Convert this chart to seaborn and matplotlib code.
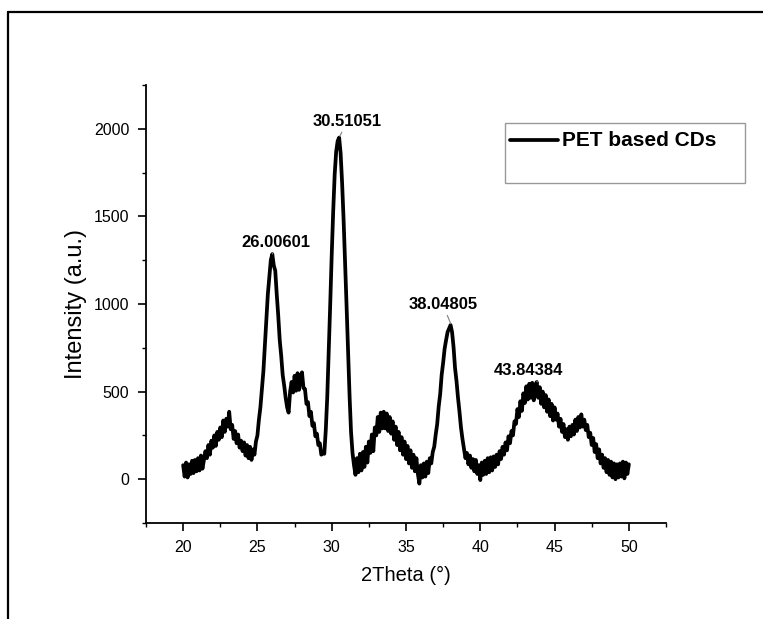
import numpy as np
import pandas as pd
import matplotlib
matplotlib.use("Agg")
import matplotlib.pyplot as plt
import seaborn as sns
from matplotlib.lines import Line2D
from matplotlib.patches import Rectangle
from matplotlib.ticker import MultipleLocator

# ---------------- data ----------------
two_theta = [
    20.0, 20.1, 20.2, 20.3, 20.4, 20.5, 20.6, 20.7, 20.8, 20.9,
    21.0, 21.1, 21.2, 21.3, 21.4, 21.5, 21.6, 21.7, 21.8, 21.9,
    22.0, 22.1, 22.2, 22.3, 22.4, 22.5, 22.6, 22.7, 22.8, 22.9,
    23.0, 23.1, 23.2, 23.3, 23.4, 23.5, 23.6, 23.7, 23.8, 23.9,
    24.0, 24.1, 24.2, 24.3, 24.4, 24.5, 24.6, 24.7, 24.8, 24.9,
    25.0, 25.1, 25.2, 25.3, 25.4, 25.5, 25.6, 25.7, 25.8, 25.9,
    26.0, 26.1, 26.2, 26.3, 26.4, 26.5, 26.6, 26.7, 26.8, 26.9,
    27.0, 27.1, 27.2, 27.3, 27.4, 27.5, 27.6, 27.7, 27.8, 27.9,
    28.0, 28.1, 28.2, 28.3, 28.4, 28.5, 28.6, 28.7, 28.8, 28.9,
    29.0, 29.1, 29.2, 29.3, 29.4, 29.5, 29.6, 29.7, 29.8, 29.9,
    30.0, 30.1, 30.2, 30.3, 30.4, 30.5, 30.6, 30.7, 30.8, 30.9,
    31.0, 31.1, 31.2, 31.3, 31.4, 31.5, 31.6, 31.7, 31.8, 31.9,
    32.0, 32.1, 32.2, 32.3, 32.4, 32.5, 32.6, 32.7, 32.8, 32.9,
    33.0, 33.1, 33.2, 33.3, 33.4, 33.5, 33.6, 33.7, 33.8, 33.9,
    34.0, 34.1, 34.2, 34.3, 34.4, 34.5, 34.6, 34.7, 34.8, 34.9,
    35.0, 35.1, 35.2, 35.3, 35.4, 35.5, 35.6, 35.7, 35.8, 35.9,
    36.0, 36.1, 36.2, 36.3, 36.4, 36.5, 36.6, 36.7, 36.8, 36.9,
    37.0, 37.1, 37.2, 37.3, 37.4, 37.5, 37.6, 37.7, 37.8, 37.9,
    38.0, 38.1, 38.2, 38.3, 38.4, 38.5, 38.6, 38.7, 38.8, 38.9,
    39.0, 39.1, 39.2, 39.3, 39.4, 39.5, 39.6, 39.7, 39.8, 39.9,
    40.0, 40.1, 40.2, 40.3, 40.4, 40.5, 40.6, 40.7, 40.8, 40.9,
    41.0, 41.1, 41.2, 41.3, 41.4, 41.5, 41.6, 41.7, 41.8, 41.9,
    42.0, 42.1, 42.2, 42.3, 42.4, 42.5, 42.6, 42.7, 42.8, 42.9,
    43.0, 43.1, 43.2, 43.3, 43.4, 43.5, 43.6, 43.7, 43.8, 43.9,
    44.0, 44.1, 44.2, 44.3, 44.4, 44.5, 44.6, 44.7, 44.8, 44.9,
    45.0, 45.1, 45.2, 45.3, 45.4, 45.5, 45.6, 45.7, 45.8, 45.9,
    46.0, 46.1, 46.2, 46.3, 46.4, 46.5, 46.6, 46.7, 46.8, 46.9,
    47.0, 47.1, 47.2, 47.3, 47.4, 47.5, 47.6, 47.7, 47.8, 47.9,
    48.0, 48.1, 48.2, 48.3, 48.4, 48.5, 48.6, 48.7, 48.8, 48.9,
    49.0, 49.1, 49.2, 49.3, 49.4, 49.5, 49.6, 49.7, 49.8, 49.9,
    50.0,
]

intensity = [
    80, 15, 95, 10, 85, 30, 105, 35, 110, 45,
    120, 50, 135, 60, 110, 160, 120, 195, 140, 220,
    180, 250, 190, 270, 225, 295, 240, 335, 270, 345,
    300, 385, 285, 310, 230, 275, 205, 255, 180, 220,
    160, 210, 135, 195, 120, 185, 110, 170, 140, 215,
    250, 340, 410, 515, 615, 765, 905, 1055, 1155, 1250,
    1285, 1220, 1190, 1055, 935, 795, 705, 595, 535, 465,
    410, 380, 500, 555, 495, 590, 505, 605, 510, 585,
    610, 520, 515, 430, 440, 360, 385, 305, 320, 245,
    260, 195, 205, 140, 150, 145, 280, 470, 730, 1000,
    1280, 1530, 1740, 1870, 1930, 1950, 1860, 1690, 1480, 1240,
    990, 730, 480, 270, 150, 80, 25, 120, 40, 145,
    50, 155, 70, 185, 95, 215, 150, 255, 160, 295,
    250, 355, 270, 380, 290, 385, 290, 375, 275, 355,
    260, 330, 225, 300, 195, 270, 165, 240, 140, 215,
    115, 190, 90, 165, 65, 140, 45, 120, 30, -25,
    80, 10, 90, 15, 100, 35, 120, 90, 155, 185,
    255, 315, 415, 485, 595, 665, 745, 795, 840, 860,
    880, 840, 755, 635, 560, 465, 385, 295, 230, 175,
    120, 150, 85, 135, 65, 115, 45, 110, 30, 80,
    -5, 95, 25, 105, 30, 120, 40, 125, 50, 130,
    70, 140, 85, 160, 115, 185, 140, 210, 165, 245,
    205, 275, 250, 330, 315, 400, 355, 445, 390, 490,
    435, 530, 455, 545, 465, 550, 450, 535, 555, 465,
    525, 430, 500, 410, 480, 385, 455, 360, 430, 335,
    410, 340, 375, 300, 345, 270, 315, 240, 285, 225,
    300, 245, 310, 255, 340, 275, 355, 295, 370, 300,
    340, 280, 310, 240, 265, 195, 235, 155, 200, 120,
    170, 90, 140, 65, 120, 40, 110, 25, 100, 10,
    90, 0, 85, 10, 90, 15, 100, 5, 95, 30,
    85,
]

peak_labels = ["26.00601", "30.51051", "38.04805", "43.84384"]
peak_pos = [26.00601, 30.51051, 38.04805, 43.84384]
peak_int = [1285, 1950, 880, 555]
label_offsets_pt = [(2.3, 8.3), (5.4, 11.7), (-6.1, 14.7), (-6.8, 8.4)]

series_name = "PET based CDs"
x_label = "2Theta (\u00b0)"
y_label = "Intensity (a.u.)"
x_ticks = [20, 25, 30, 35, 40, 45, 50]
y_ticks = [0, 500, 1000, 1500, 2000]

# ---------------- figure ----------------
sns.set_theme(style="ticks")
plt.rcParams["font.family"] = ["Liberation Sans", "DejaVu Sans"]
plt.rcParams["text.color"] = "black"
plt.rcParams["axes.labelcolor"] = "black"
plt.rcParams["xtick.color"] = "black"
plt.rcParams["ytick.color"] = "black"

W, H = 763, 619
fig = plt.figure(figsize=(W / 100, H / 100), dpi=100)
ax = fig.add_axes([146 / W, 1 - 523 / H, (666 - 146) / W, (523 - 85) / H])

df = pd.DataFrame({"two_theta": two_theta, "intensity": intensity})
sns.lineplot(data=df, x="two_theta", y="intensity", ax=ax, color="black",
             linewidth=2.7, estimator=None, sort=False, legend=False)

ax.set_xlim(17.5, 52.5)
ax.set_ylim(-250, 2250)
ax.set_xticks(x_ticks)
ax.set_yticks(y_ticks)
ax.xaxis.set_minor_locator(MultipleLocator(2.5))
ax.yaxis.set_minor_locator(MultipleLocator(250))
ax.tick_params(axis="both", which="major", direction="out", length=6,
               width=1.2, labelsize=11.5, color="black", labelcolor="black", pad=6)
ax.tick_params(axis="both", which="minor", direction="out", length=3,
               width=1.0, color="black")
for s in ["top", "right"]:
    ax.spines[s].set_visible(False)
for s in ["left", "bottom"]:
    ax.spines[s].set_linewidth(1.3)
    ax.spines[s].set_color("black")

ax.set_xlabel(x_label, fontsize=14.5, labelpad=8, color="black")
ax.set_ylabel(y_label, fontsize=17, labelpad=5, color="black")

for lab, px, py, off in zip(peak_labels, peak_pos, peak_int, label_offsets_pt):
    ax.annotate(lab, xy=(px, py), xytext=off, textcoords="offset points",
                ha="center", va="center", fontsize=12, fontweight="bold",
                color="black",
                arrowprops=dict(arrowstyle="-", color="grey", lw=0.8,
                                shrinkA=0, shrinkB=1))

# legend box (Origin style)
fig.patches.append(Rectangle((505 / W, 1 - 183 / H), (745 - 505) / W, 60 / H,
                             transform=fig.transFigure, fill=False,
                             edgecolor="#999999", lw=1.0))
fig.add_artist(Line2D([510 / W, 558 / W], [1 - 140 / H, 1 - 140 / H],
                      transform=fig.transFigure, color="black", lw=2.7))
fig.text(562 / W, 1 - 140 / H, series_name, fontsize=15, fontweight="bold",
         ha="left", va="center", color="black")

# outer frame (left and top edges visible)
fig.add_artist(Line2D([7.5 / W, 7.5 / W], [0, 1 - 12 / H],
                      transform=fig.transFigure, color="black", lw=1.6))
fig.add_artist(Line2D([7.5 / W, 1], [1 - 12 / H, 1 - 12 / H],
                      transform=fig.transFigure, color="black", lw=1.6))

fig.savefig("out.png", dpi=100, facecolor="white")
